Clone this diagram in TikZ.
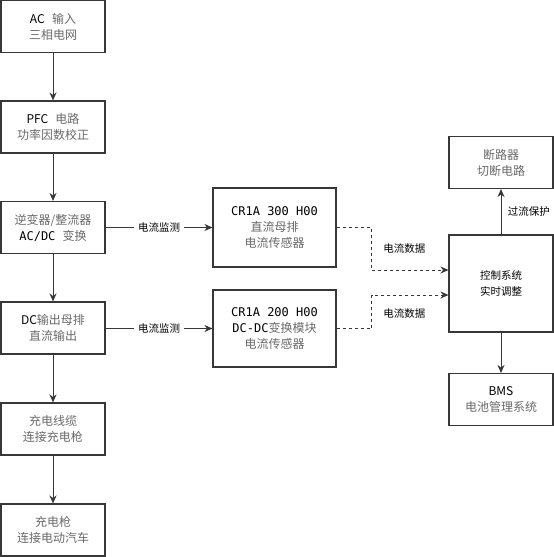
\documentclass[tikz,border=0pt]{standalone}
\usepackage{fontspec}
\setmainfont{Noto Sans CJK SC}
\setmonofont{DejaVu Sans Mono}
\usetikzlibrary{arrows.meta,positioning,calc}
\definecolor{boxline}{RGB}{55,55,55}
\definecolor{cngray}{RGB}{105,105,105}
\newcommand{\cn}[1]{\textcolor{cngray}{#1}}

\begin{document}
\begin{tikzpicture}[x=1pt,y=-1pt,
    blk/.style={draw=boxline, line width=1.1pt, minimum width=104pt, minimum height=52pt,
        align=center, inner sep=0pt, font=\fontsize{12}{16}\selectfont},
    flow/.style={-{Stealth[length=8pt,width=7pt]}, line width=0.9pt, draw=boxline},
    dataflow/.style={flow, dashed},
    lbl/.style={fill=white, inner sep=4pt, font=\fontsize{10.5}{13}\selectfont}]
    \useasboundingbox (0,0) rectangle (554,557);

    % Main power chain
    \node[blk] (ac)    at (53,26.5) {AC\hspace{0.6em}\cn{输入}\\\cn{三相电网}};
    \node[blk] (pfc)   at (53,127)  {PFC\hspace{0.6em}\cn{电路}\\\cn{功率因数校正}};
    \node[blk] (inv)   at (53,227.5) {\cn{逆变器/整流器}\\\texttt{AC/DC}\hspace{0.6em}\cn{变换}};
    \node[blk] (dcbus) at (53,328)  {DC\cn{输出母排}\\\cn{直流输出}};
    \node[blk] (cable) at (53,429)  {\cn{充电线缆}\\\cn{连接充电枪}};
    \node[blk] (gun)   at (53,530)  {\cn{充电枪}\\\cn{连接电动汽车}};

    % Current sensors
    \node[blk, minimum width=123pt, minimum height=79pt] (cr300) at (274.5,227.5)
        {\texttt{CR1A 300 H00}\\\cn{直流母排}\\\cn{电流传感器}};
    \node[blk, minimum width=123pt, minimum height=77pt] (cr200) at (274.5,328.5)
        {\texttt{CR1A 200 H00}\\\texttt{DC-DC}\cn{变换模块}\\\cn{电流传感器}};

    % Control side
    \node[blk] (brk)  at (501,162.5) {\cn{断路器}\\\cn{切断电路}};
    \node[blk, minimum height=97pt, font=\fontsize{10.5}{16}\selectfont] (ctrl) at (501,283.5)
        {控制系统\\实时调整};
    \node[blk] (bms)  at (501,399.5) {BMS\\\cn{电池管理系统}};

    % Connections
    \draw[flow] (ac) -- (pfc);
    \draw[flow] (pfc) -- (inv);
    \draw[flow] (inv) -- (dcbus);
    \draw[flow] (dcbus) -- (cable);
    \draw[flow] (cable) -- (gun);
    \draw[flow] (inv) -- node[lbl] {电流监测} (cr300);
    \draw[flow] (dcbus.east |- cr200) -- node[lbl] {电流监测} (cr200);
    \draw[dataflow] (cr300.east) -- ++(35,0)
        |- node[pos=0.25, right=8pt, font=\fontsize{10.5}{13}\selectfont] {电流数据} ($(ctrl.west)+(0,-13.5)$);
    \draw[dataflow] (cr200.east) -- ++(35,0)
        |- node[pos=0.22, right=8pt, font=\fontsize{10.5}{13}\selectfont] {电流数据} ($(ctrl.west)+(0,11.5)$);
    \draw[flow] (ctrl) -- node[right=3pt, font=\fontsize{10.5}{13}\selectfont] {过流保护} (brk);
    \draw[flow] (ctrl) -- (bms);
\end{tikzpicture}
\end{document}
